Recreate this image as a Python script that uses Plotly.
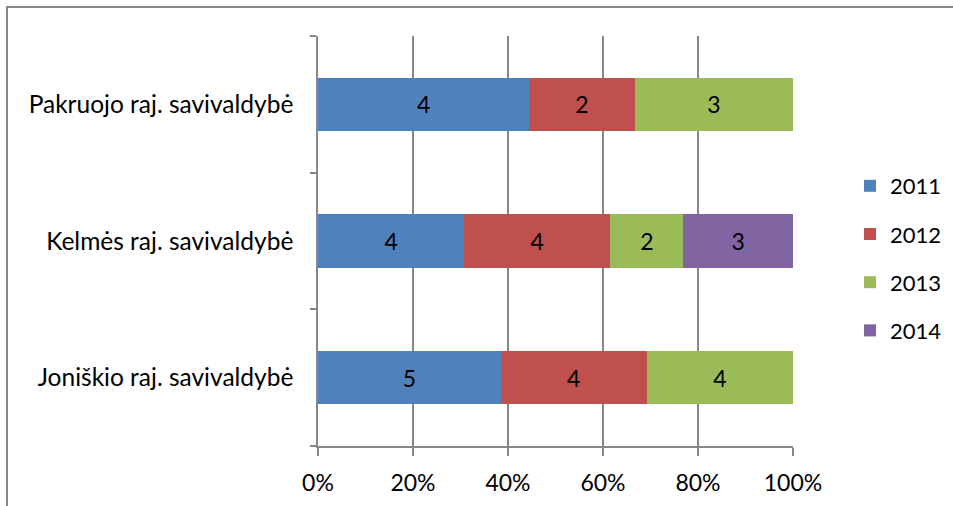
import plotly.graph_objects as go

categories = ["Joniškio raj. savivaldybė", "Kelmės raj. savivaldybė", "Pakruojo raj. savivaldybė"]
years = ["2011", "2012", "2013", "2014"]
v2011 = [5, 4, 4]
v2012 = [4, 4, 2]
v2013 = [4, 2, 3]
v2014 = [0, 3, 0]
series = [v2011, v2012, v2013, v2014]
colors = ["#4F81BD", "#C0504D", "#9BBB59", "#8064A2"]
tick_vals = [0, 20, 40, 60, 80, 100]
tick_text = ["0%", "20%", "40%", "60%", "80%", "100%"]

FONT = "Lato"
fig = go.Figure()
for name, vals, col in zip(years, series, colors):
    fig.add_trace(go.Bar(
        y=categories, x=vals, name=name, orientation="h",
        marker=dict(color=col, line=dict(width=0)),
        text=[str(v) if v else "" for v in vals],
        textposition="inside", insidetextanchor="middle",
        textfont=dict(color="black", size=23, family=FONT),
        legendgroup=name, hoverinfo="x+y+name",
    ))

L, R, T, B = 318, 793, 36, 446
W, H = 953, 506
pw, ph = R - L, B - T

def px(x):
    return (x - L) / pw

def py(y):
    return (B - y) / ph

fig.update_layout(
    width=W, height=H,
    margin=dict(l=L, r=W - R, t=T, b=H - B, pad=0, autoexpand=False),
    barmode="stack", barnorm="percent", bargap=0.61,
    plot_bgcolor="white", paper_bgcolor="white",
    font=dict(family=FONT, size=23, color="black"),
    showlegend=True,
    legend=dict(
        x=px(850), y=py(165), xanchor="left", yanchor="top",
        traceorder="grouped", tracegroupgap=16.6,
        font=dict(size=22, family=FONT), itemwidth=30,
        bgcolor="rgba(0,0,0,0)",
    ),
    uniformtext=dict(mode="show", minsize=10),
)
fig.update_xaxes(
    range=[0, 100], tickmode="array", tickvals=tick_vals, ticktext=tick_text,
    showgrid=True, gridcolor="#878787", gridwidth=1.5,
    showline=True, linecolor="#878787", linewidth=1.5,
    ticks="outside", ticklen=8, tickcolor="#878787", tickwidth=1.5,
    zeroline=False, tickfont=dict(size=23, family=FONT), ticklabelstandoff=8,
)
fig.update_yaxes(
    showline=True, linecolor="#878787", linewidth=1.5,
    ticks="outside", tickson="boundaries", ticklen=6, tickcolor="#878787", tickwidth=1.5,
    showgrid=False, tickfont=dict(size=24.5, family=FONT), ticklabelstandoff=18,
)
fig.add_shape(
    type="rect", xref="paper", yref="paper",
    x0=px(7), x1=px(970), y0=py(525), y1=py(7),
    line=dict(color="#878787", width=2), fillcolor="rgba(0,0,0,0)", layer="below",
)
fig.write_html("out.html")
